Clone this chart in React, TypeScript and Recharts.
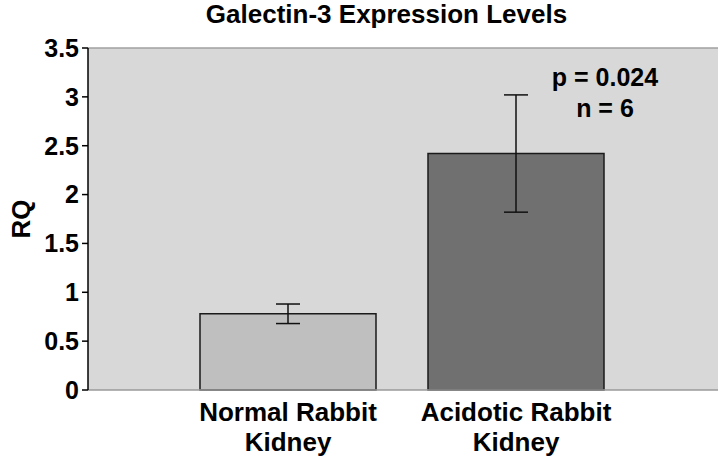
import { BarChart, Bar, XAxis, YAxis, CartesianGrid, ErrorBar, Cell, ReferenceLine } from "recharts";

const categories = ["Normal Rabbit Kidney", "Acidotic Rabbit Kidney"];
const rqValues = [0.78, 2.42];
const rqErrors = [0.1, 0.6];
const barColors = ["#bfbfbf", "#707070"];
const yTicks = [0, 0.5, 1, 1.5, 2, 2.5, 3, 3.5];
const annotation = ["p = 0.024", "n = 6"];

const FONT = "'Liberation Sans', Arial, sans-serif";

const data = categories.map((c, i) => ({ name: c, rq: rqValues[i], err: rqErrors[i] }));

function CatTick(props: any) {
  const { x, y, payload } = props;
  const s = String(payload.value);
  const k = s.lastIndexOf(" ");
  const lines = [s.slice(0, k), s.slice(k + 1)];
  return (
    <text x={x} y={y} textAnchor="middle" fontFamily={FONT} fontWeight={700} fontSize={26} fill="#000">
      {lines.map((l, i) => (
        <tspan key={i} x={x} dy={i === 0 ? 23 : 30}>{l}</tspan>
      ))}
    </text>
  );
}

function RqLabel(props: any) {
  const vb = props.viewBox;
  const cx = vb.x + 13;
  const cy = vb.y + vb.height / 2;
  return (
    <text x={cx} y={cy} transform={`rotate(-90 ${cx} ${cy})`} textAnchor="middle" dominantBaseline="central"
      fontFamily={FONT} fontWeight={700} fontSize={26} fill="#000">RQ</text>
  );
}

export default function App() {
  return (
    <div style={{ position: "absolute", left: 0, top: 0, width: 720, height: 458, background: "#fff", fontFamily: FONT }}>
      <div style={{ position: "absolute", left: 0, width: 773, top: -1, textAlign: "center", fontWeight: 700, fontSize: 26, lineHeight: "30px" }}>
        Galectin-3 Expression Levels
      </div>
      <BarChart width={720} height={458} data={data} margin={{ top: 48, right: 2, left: 8, bottom: 0 }}>
        <CartesianGrid horizontal={false} vertical={false} fill="#d8d8d8" fillOpacity={1} />
        <XAxis dataKey="name" height={68} padding={{ left: 86, right: 88 }} tickLine={false}
          axisLine={{ stroke: "#9a9a9a", strokeWidth: 1.5 }} tick={<CatTick />} interval={0} />
        <YAxis yAxisId="left" width={80} domain={[0, 3.5]} ticks={yTicks} interval={0}
          tickSize={6} tickMargin={3} axisLine={{ stroke: "#000", strokeWidth: 1.5 }} tickLine={{ stroke: "#000", strokeWidth: 1.5 }}
          tick={{ fill: "#000", fontSize: 25, fontWeight: 700, fontFamily: FONT }}
          label={<RqLabel />} />
        <YAxis yAxisId="right" orientation="right" width={0} tick={false} tickLine={false}
          axisLine={{ stroke: "#a0a0a0", strokeWidth: 1.5 }} />
        <ReferenceLine yAxisId="left" y={3.5} stroke="#a0a0a0" strokeWidth={1.5} />
        <Bar yAxisId="left" dataKey="rq" barSize={176} stroke="#1a1a1a" strokeWidth={1.5} isAnimationActive={false}>
          {data.map((d, i) => (
            <Cell key={d.name} fill={barColors[i]} />
          ))}
          <ErrorBar dataKey="err" width={12} stroke="#111" strokeWidth={1.5} direction="y" />
        </Bar>
      </BarChart>
      <div style={{ position: "absolute", left: 505, width: 200, top: 62, textAlign: "center", fontWeight: 700, fontSize: 25, lineHeight: "31px" }}>
        {annotation.map((a) => (
          <div key={a}>{a}</div>
        ))}
      </div>
    </div>
  );
}
